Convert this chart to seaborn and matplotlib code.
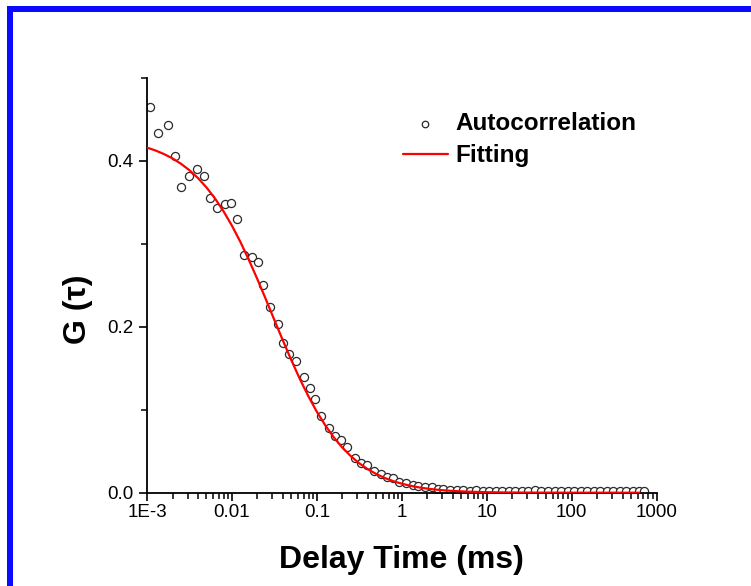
import numpy as np
import pandas as pd
import matplotlib
matplotlib.use("Agg")
import matplotlib.pyplot as plt
from matplotlib.patches import Rectangle
from matplotlib.ticker import FixedLocator, LogLocator, NullFormatter
import seaborn as sns

# ---- data ----
tau_ms = [0.001076, 0.001361, 0.001770, 0.002163, 0.002541, 0.003162, 0.003899,
          0.004753, 0.005559, 0.006668, 0.008204, 0.009840, 0.01148, 0.01374,
          0.01710, 0.02042, 0.02307, 0.02818, 0.03467, 0.03972, 0.04677, 0.05728,
          0.06982, 0.08222, 0.09506, 0.1130, 0.1390, 0.1656, 0.1950, 0.2296,
          0.2799, 0.3357, 0.3846, 0.4688, 0.5675, 0.6745, 0.7798, 0.9333, 1.122,
          1.346, 1.567, 1.879, 2.254, 2.698, 3.097, 3.715, 4.436, 5.284, 6.310,
          7.534, 8.995, 10.74, 12.82, 15.28, 18.24, 21.78, 26.00, 31.05, 37.07,
          44.16, 52.72, 62.95, 75.16, 89.74, 107.2, 127.6, 152.4, 182.0, 217.3,
          259.4, 309.7, 369.0, 440.6, 526.0, 628.1, 716.1]
g_auto = [0.465, 0.434, 0.443, 0.406, 0.369, 0.382, 0.390, 0.382, 0.355, 0.343,
          0.348, 0.349, 0.330, 0.287, 0.284, 0.278, 0.251, 0.224, 0.203, 0.181,
          0.167, 0.159, 0.139, 0.126, 0.1125, 0.092, 0.078, 0.068, 0.0635, 0.0554,
          0.0414, 0.0354, 0.034, 0.0265, 0.0225, 0.019, 0.018, 0.013, 0.012, 0.009,
          0.008, 0.007, 0.0065, 0.005, 0.004, 0.0035, 0.0030, 0.0032, 0.0025,
          0.0028, 0.0020, 0.0024, 0.0022, 0.0018, 0.0026, 0.0021, 0.0023, 0.0019,
          0.0027, 0.0022, 0.0020, 0.0025, 0.0021, 0.0024, 0.0019, 0.0023, 0.0026,
          0.0020, 0.0022, 0.0025, 0.0021, 0.0024, 0.0022, 0.0026, 0.0023, 0.0025]

fit_tau_ms = [0.001, 0.001259, 0.001585, 0.001995, 0.002512, 0.003162, 0.003981,
              0.005012, 0.00631, 0.007943, 0.01, 0.01259, 0.01585, 0.01995,
              0.02512, 0.03162, 0.03981, 0.05012, 0.0631, 0.07943, 0.1, 0.1259,
              0.1585, 0.1995, 0.2512, 0.3162, 0.3981, 0.5012, 0.631, 0.7943, 1.0,
              1.259, 1.585, 1.995, 2.512, 3.162, 3.981, 6.31, 10.0, 15.85, 25.12,
              39.81, 63.1, 100.0, 158.5, 251.2, 398.1, 631.0]
fit_g = [0.4161, 0.4126, 0.4083, 0.4031, 0.3966, 0.3888, 0.3794, 0.3681, 0.3549,
         0.3395, 0.3220, 0.3023, 0.2806, 0.2574, 0.2331, 0.2082, 0.1836, 0.1597,
         0.1371, 0.1164, 0.0976, 0.0811, 0.0667, 0.0544, 0.04407, 0.03543,
         0.02831, 0.02248, 0.01774, 0.01391, 0.01085, 0.00840, 0.00646, 0.004936,
         0.003744, 0.002820, 0.002108, 0.001155, 0.000618, 0.000324, 0.000168,
         0.000087, 0.000045, 0.000023, 0.000012, 0.000006, 0.000003, 0.0000015]

xtick_vals = [1e-3, 1e-2, 1e-1, 1, 10, 100, 1000]
xtick_labels = ["1E-3", "0.01", "0.1", "1", "10", "100", "1000"]
ytick_vals = [0.0, 0.2, 0.4]
ytick_labels = ["0.0", "0.2", "0.4"]

df_auto = pd.DataFrame({"tau": tau_ms, "G": g_auto})
df_fit = pd.DataFrame({"tau": fit_tau_ms, "G": fit_g})

sns.set_style("ticks")
plt.rcParams["font.family"] = ["Liberation Sans", "DejaVu Sans"]
plt.rcParams["text.color"] = "black"
plt.rcParams["axes.labelcolor"] = "black"

W, H = 751, 586
fig = plt.figure(figsize=(W / 100, H / 100), dpi=100)
fig.patch.set_facecolor("white")
ax = fig.add_axes([147 / W, 1 - 492.7 / H, (656.5 - 147) / W, (492.7 - 78) / H])
ax.set_facecolor("white")

sns.scatterplot(data=df_auto, x="tau", y="G", ax=ax, marker="o", s=34,
                facecolor="white", edgecolor="#2a2a2a", linewidth=0.9,
                label="Autocorrelation", zorder=2)
sns.lineplot(data=df_fit, x="tau", y="G", ax=ax, color="#ff0000", linewidth=1.6,
             label="Fitting", zorder=3)

ax.set_xscale("log")
ax.set_xlim(1e-3, 1e3)
ax.set_ylim(0, 0.5)

ax.xaxis.set_major_locator(FixedLocator(xtick_vals))
ax.set_xticklabels(xtick_labels)
ax.xaxis.set_minor_locator(LogLocator(base=10, subs=np.arange(2, 10), numticks=20))
ax.xaxis.set_minor_formatter(NullFormatter())
ax.set_yticks(ytick_vals)
ax.set_yticklabels(ytick_labels)
ax.set_yticks([0.1, 0.3, 0.5], minor=True)

for s in ["top", "right"]:
    ax.spines[s].set_visible(False)
for s in ["left", "bottom"]:
    ax.spines[s].set_linewidth(1.3)
    ax.spines[s].set_color("black")

ax.tick_params(axis="both", which="major", direction="out", length=6, width=1.2,
               colors="black", labelcolor="black", labelsize=13.5)
ax.tick_params(axis="both", which="minor", direction="out", length=4, width=1.1,
               colors="black")
ax.tick_params(axis="x", which="major", pad=2)
ax.tick_params(axis="y", which="major", pad=4)

ax.set_xlabel("Delay Time (ms)", fontsize=23, fontweight="bold", va="center",
              color="black")
ax.xaxis.set_label_coords(0.5, -0.162)
ax.set_ylabel("G (τ)", fontsize=23, fontweight="bold", va="center", color="black")
ax.yaxis.set_label_coords(-0.136, 0.443)

leg = ax.legend(loc="upper left", bbox_to_anchor=(403 / W, 1 - 112 / H),
                bbox_transform=fig.transFigure, frameon=False,
                prop={"weight": "bold", "size": 17.5}, handlelength=1.85,
                handletextpad=0.3, labelspacing=0.39, borderpad=0, borderaxespad=0,
                markerscale=0.8)
for t in leg.get_texts():
    t.set_color("black")

# blue frame (top and left edges visible in the reference)
fig.add_artist(Rectangle((7 / W, 1 - 12 / H), 1 - 7 / W, 6 / H,
                         transform=fig.transFigure, facecolor="#0a0aff",
                         edgecolor="none"))
fig.add_artist(Rectangle((7 / W, 0), 6 / W, 1 - 6 / H,
                         transform=fig.transFigure, facecolor="#0a0aff",
                         edgecolor="none"))

fig.savefig("out.png", dpi=100, facecolor="white")
